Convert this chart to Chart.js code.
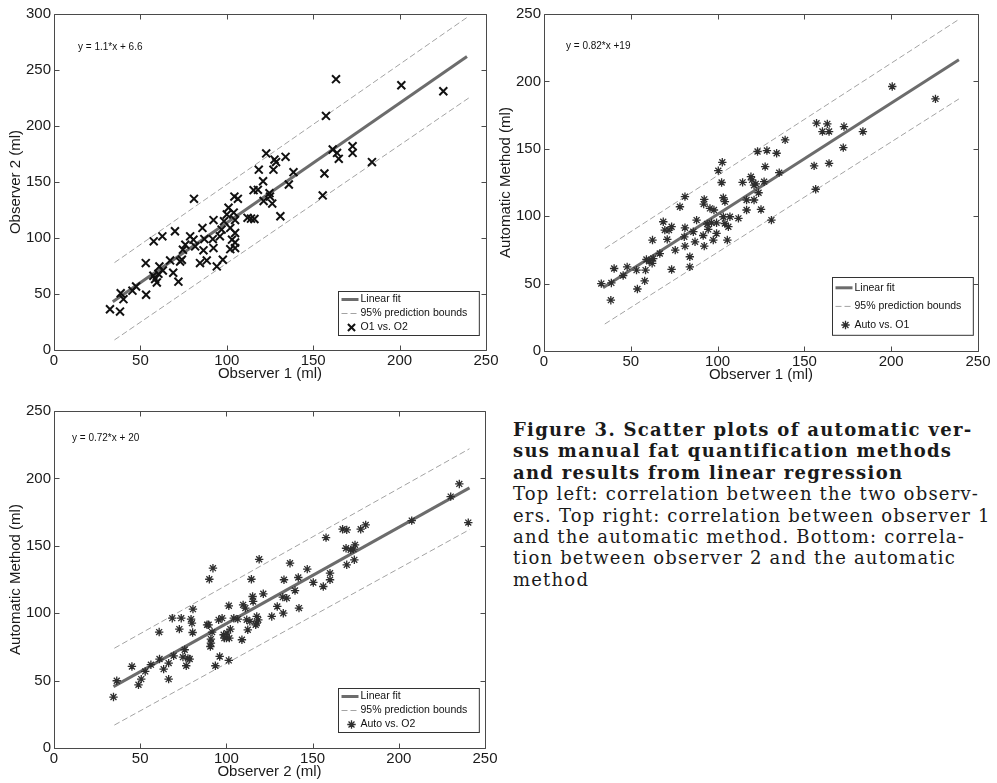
<!DOCTYPE html>
<html>
<head>
<meta charset="utf-8">
<script src="https://cdn.jsdelivr.net/npm/chart.js@4.4.1/dist/chart.umd.min.js"></script>
<style>
  html, body { margin: 0; padding: 0; background: #fff; }
  body { width: 997px; height: 783px; position: relative; overflow: hidden; }
  canvas { position: absolute; }
  #c1 { left: 0; top: 0; }
  #c2 { left: 490px; top: 0; }
  #c3 { left: 0; top: 390px; }
  .caption {
    position: absolute; left: 513px; top: 419px;
    font-family: 'DejaVu Serif', serif; font-size: 18px; line-height: 21.4px; color: #1a1a1a;
    letter-spacing: 1.2px;
  }
  .caption div { white-space: nowrap; }
  .caption .b { font-weight: bold; letter-spacing: 1.3px; }
</style>
</head>
<body>
<canvas id="c1" width="501" height="385"></canvas>
<canvas id="c2" width="503" height="386"></canvas>
<canvas id="c3" width="500" height="393"></canvas>
<div class="caption">
  <div class="b">Figure 3. Scatter plots of automatic ver-</div>
  <div class="b">sus manual fat quantification methods</div>
  <div class="b">and results from linear regression</div>
  <div>Top left: correlation between the two observ-</div>
  <div>ers. Top right: correlation between observer 1</div>
  <div>and the automatic method. Bottom: correla-</div>
  <div>tion between observer 2 and the automatic</div>
  <div>method</div>
</div>
<script>
// top left: observer 1 (x) vs observer 2 (y)
const o1o2X = [32.4, 38.2, 38.6, 40.2, 45.4, 47.5, 53.1, 53.3, 57.7, 62.7, 57.5, 58.5, 59.5, 60.4, 61, 63,
  67.2, 70, 69, 72, 73, 74, 74.6, 76, 78.8, 81, 80.7, 81.7, 84.5, 88.4, 85.9, 86.5, 87, 92.3, 91.9, 92.3,
  94.2, 96, 97.7, 97, 98.4, 100, 101, 102, 103, 104, 104.4, 106.4, 104.8, 104.8, 102, 104.8, 104.8, 112,
  114, 116, 115.5, 118.5, 121, 118, 121.3, 122.8, 124.7, 125, 126.3, 127, 127.6, 128.5, 134, 131, 135.9,
  138.6, 156.5, 155.5, 157.4, 163.2, 161.3, 163.8, 164.8, 172.8, 172.8, 184, 201, 225.3];
const o1o2Y = [36.4, 34.3, 50.7, 45.4, 53, 56.7, 77.6, 49.3, 97, 101.5, 66.3, 63.3, 60.3, 68, 74.6, 71,
  80, 106, 69, 61, 79, 80.6, 89.5, 94, 101.5, 135, 98.5, 92.5, 77.6, 80, 109, 89, 99, 116, 99, 91,
  74.6, 101.5, 80.6, 107.5, 115, 121, 127, 109, 98.5, 122.7, 137, 135, 104.5, 91, 90, 96, 116, 118,
  117.3, 117, 142.7, 161, 150.7, 143, 133, 175.5, 140, 137, 130.7, 161, 170, 167.8, 172.5, 119.4, 147.8,
  158.8, 157.6, 138, 209, 241.8, 179, 176, 170.7, 182, 176, 167.8, 236.4, 231];
const fit1X = [34, 239];
const fit1Y = [43, 262];
const bounds1X = [35, 240];
const upper1Y = [78, 298];
const lower1Y = [9, 225];

// top right: observer 1 (x) vs automatic (y)
const autoO1X = [33, 38.8, 38.5, 40.4, 45.6, 47.9, 53.3, 53.8, 58, 58.5, 59, 60.6, 62.3, 62.9, 62.5, 66.7,
  68.7, 69.6, 71, 72, 73.5, 73.5, 75.6, 78.3, 81.2, 81.2, 80.8, 81.2, 84, 84, 86, 87, 87.9, 92.3, 92, 91.7,
  92.3, 94, 94.6, 96.5, 95.6, 97.9, 97.5, 99.4, 99.4, 100.4, 102.7, 102.3, 103.3, 104.2, 103.3, 104.2,
  105.6, 106.2, 107.1, 112, 114.4, 116.7, 116.7, 119.2, 119.8, 121, 122, 123.6, 121, 125, 126.8, 123,
  128.4, 127.4, 134, 135.5, 131, 138.9, 155.6, 156.5, 157, 160.4, 163.2, 164.2, 164.2, 172.8, 172.4,
  183.7, 200.6, 225.5];
const autoO1Y = [50, 50.5, 37.7, 61.2, 56, 62.4, 60, 46, 52, 60, 67.9, 66.6, 65, 68.6, 82.3, 72.3,
  95.9, 89.7, 82.8, 89.7, 92.2, 60.5, 74.8, 107, 114.5, 91.4, 84.7, 77.8, 69.9, 62.4, 88.5, 81, 97.1, 112.5, 109, 85.7,
  77.8, 94.2, 90.2, 95.1, 105.8, 104.6, 82.3, 95.1, 87.2, 133.8, 140, 125, 113.7, 110.8, 99.6, 94.6,
  82.3, 92.2, 99.6, 98.4, 125.1, 112, 104.6, 129.3, 126.9, 123, 124, 117.4, 112, 105, 125.6, 148,
  148.7, 136.8, 146.7, 132.3, 97.1, 156.6, 137.3, 120, 169, 162.8, 168.5, 162.8, 139.2, 166.5, 150.9,
  162.8, 196.2, 187];
const fit2X = [34, 239];
const fit2Y = [47, 216];
const bounds2X = [35, 239];
const upper2Y = [76, 246];
const lower2Y = [20, 187];

// bottom: observer 2 (x) vs automatic (y)
const autoO2X = [34.5, 36.4, 45.2, 49, 50.6, 52.9, 56.2, 61, 61.2, 63.6, 66.5, 66.5, 68.6, 69.4, 72.7,
  73.8, 74.8, 75.8, 76.7, 77.7, 78.7, 79.5, 80.6, 80, 80.4, 88.8, 89.7, 90.1, 92.2, 91, 90.7, 91, 91.7,
  93.6, 95.5, 96.1, 97.5, 98.4, 98.8, 100, 100.4, 101.4, 101.4, 101.7, 102.3, 104.3, 106.6, 109, 109.7,
  111, 112.4, 113.6, 114.5, 111.8, 115.2, 115.5, 119, 117.6, 117.6, 117, 118.5, 121.4, 126.3, 129.5, 133,
  133.4, 132.7, 135, 136.9, 139.8, 141.7, 142.1, 146.9, 150.4, 156.2, 157.8, 160.1, 160.1, 167.4, 169.8,
  169.4, 169.8, 172.1, 174.6, 173.7, 174.2, 177.9, 180.8, 207.5, 230.1, 235.1, 240.3];
const autoO2Y = [37.8, 49.9, 60.5, 46.9, 51.1, 56.8, 61.8, 86, 66, 58.5, 63, 51.1, 96.3, 68.4, 88.2,
  96.3, 67.4, 72.9, 61, 66.5, 66, 95.6, 103, 92.6, 85.7, 91.4, 91.4, 125.2, 133.4, 80.8, 75.3, 77.8, 86,
  61, 95.1, 67.9, 96.3, 84, 81.5, 81.5, 85.2, 65, 105.5, 81.5, 88.2, 96.3, 95.6, 80.3, 106.2,
  103.8, 87.7, 93.9, 125.2, 95.1, 112.4, 108.7, 140, 97.6, 92.6, 91.4, 95.1, 114.4, 97.6, 105, 100,
  124.8, 111.9, 111.2, 137.1, 116.8, 126.5, 103.8, 132.7, 122.8, 119.8, 156.1, 129.7, 124.8, 162.3, 161.8,
  148.2, 135.9, 147, 150.7, 147.5, 139.6, 162.3, 165.5, 168.7, 186.5, 195.9, 167.2];
const fit3X = [34.5, 241];
const fit3Y = [45.5, 193];
const bounds3X = [35, 241];
const upper3Y = [74, 222];
const lower3Y = [17, 162];

const axisFont = { family: "'Liberation Sans', Arial, sans-serif", size: 15 };
const textColor = '#1a1a1a';

function pairs(xs, ys) {
  return xs.map((x, i) => ({ x, y: ys[i] }));
}

function drawMarker(ctx, style, x, y, r) {
  ctx.beginPath();
  const d = r * Math.SQRT1_2;
  ctx.moveTo(x - d, y - d); ctx.lineTo(x + d, y + d);
  ctx.moveTo(x + d, y - d); ctx.lineTo(x - d, y + d);
  if (style === 'star') {
    ctx.moveTo(x - r, y); ctx.lineTo(x + r, y);
    ctx.moveTo(x, y - r); ctx.lineTo(x, y + r);
  }
  ctx.stroke();
}

// matlab-like box, inward ticks, equation text and legend
const matlabFrame = {
  id: 'matlabFrame',
  afterDatasetsDraw(chart, args, opts) {
    const { ctx, chartArea: a, scales: { x, y } } = chart;
    const L = Math.round(a.left) + 0.5, R = Math.round(a.right) + 0.5;
    const T = Math.round(a.top) + 0.5, B = Math.round(a.bottom) + 0.5;
    ctx.save();
    ctx.strokeStyle = '#4a4a4a';
    ctx.lineWidth = 1;
    ctx.setLineDash([]);
    ctx.beginPath();
    ctx.rect(L, T, R - L, B - T);
    x.ticks.forEach(t => {
      const px = Math.round(x.getPixelForValue(t.value)) + 0.5;
      ctx.moveTo(px, B); ctx.lineTo(px, B - 5);
      ctx.moveTo(px, T); ctx.lineTo(px, T + 5);
    });
    y.ticks.forEach(t => {
      const py = Math.round(y.getPixelForValue(t.value)) + 0.5;
      ctx.moveTo(L, py); ctx.lineTo(L + 5, py);
      ctx.moveTo(R, py); ctx.lineTo(R - 5, py);
    });
    ctx.stroke();

    // equation
    ctx.fillStyle = '#111';
    ctx.font = "10px 'Liberation Sans', Arial, sans-serif";
    ctx.textBaseline = 'middle';
    ctx.fillText(opts.equation, a.left + opts.eqDx, a.top + opts.eqDy);

    // legend
    const ds = chart.data.datasets;
    const order = [1, 2, 0];
    ctx.font = "10.5px 'Liberation Sans', Arial, sans-serif";
    const tw = Math.max(...order.map(i => ctx.measureText(ds[i].label).width));
    const bw = tw + 34;
    const bh = opts.rowH * 3 + 2;
    const bx = Math.round(a.right - opts.legRight - bw) + 0.5;
    const by = Math.round(a.bottom - opts.legBottom - bh) + 0.5;
    ctx.fillStyle = '#fff';
    ctx.fillRect(bx, by, bw, bh);
    ctx.strokeStyle = '#333';
    ctx.strokeRect(bx, by, bw, bh);
    order.forEach((i, k) => {
      const cy = by + 1 + opts.rowH * (k + 0.5);
      const d = ds[i];
      ctx.save();
      if (i === 0) {
        ctx.strokeStyle = d.borderColor;
        ctx.lineWidth = d.borderWidth;
        drawMarker(ctx, d.pointStyle, bx + 13, cy, d.pointRadius * (d.pointStyle === 'star' ? 1 : 0.9));
      } else {
        ctx.strokeStyle = d.borderColor;
        ctx.lineWidth = d.borderWidth;
        ctx.setLineDash(d.borderDash || []);
        ctx.beginPath();
        ctx.moveTo(bx + 3, cy); ctx.lineTo(bx + 20, cy);
        ctx.stroke();
      }
      ctx.restore();
      ctx.fillStyle = '#111';
      ctx.fillText(d.label, bx + 22, cy);
    });
    ctx.restore();
  }
};

function axis(min, max, title, horizontal, size) {
  return {
    type: 'linear',
    min, max,
    ticks: { stepSize: 50, color: textColor, font: axisFont, padding: horizontal ? 2 : 3 },
    grid: { display: false, drawTicks: false },
    border: { display: false },
    title: {
      display: true, text: title, color: textColor, font: axisFont,
      padding: horizontal ? { top: 0, bottom: 2 } : { top: 7, bottom: 0 }
    },
    afterFit: s => { if (horizontal) s.height = size; else s.width = size; }
  };
}

function makeChart(id, cfg) {
  return new Chart(document.getElementById(id), {
    type: 'scatter',
    data: {
      datasets: [
        {
          label: cfg.pointLabel,
          data: pairs(cfg.px, cfg.py),
          pointStyle: cfg.marker,
          pointRadius: cfg.marker === 'star' ? 4.2 : 5.6,
          borderColor: cfg.marker === 'star' ? '#2e2e2e' : '#111',
          backgroundColor: 'transparent',
          borderWidth: cfg.marker === 'star' ? 1.3 : 2,
          showLine: false,
          order: 0
        },
        {
          label: 'Linear fit',
          data: pairs(cfg.fitX, cfg.fitY),
          showLine: true, pointRadius: 0,
          borderColor: '#6c6c6c', borderWidth: 3,
          order: 2
        },
        {
          label: '95% prediction bounds',
          data: pairs(cfg.bx, cfg.upper),
          showLine: true, pointRadius: 0,
          borderColor: '#a3a3a3', borderWidth: 1, borderDash: [6, 3],
          order: 3
        },
        {
          label: '95% prediction bounds (lower)',
          data: pairs(cfg.bx, cfg.lower),
          showLine: true, pointRadius: 0,
          borderColor: '#a3a3a3', borderWidth: 1, borderDash: [6, 3],
          order: 3
        }
      ]
    },
    options: {
      responsive: false,
      animation: false,
      events: [],
      layout: { padding: { left: 0, right: 15, top: cfg.padTop, bottom: 0 } },
      plugins: {
        legend: { display: false },
        tooltip: { enabled: false },
        matlabFrame: {
          equation: cfg.equation, eqDx: cfg.eqDx, eqDy: cfg.eqDy,
          rowH: cfg.rowH, legRight: cfg.legRight, legBottom: cfg.legBottom
        }
      },
      scales: {
        x: axis(0, 250, cfg.xTitle, true, 35),
        y: axis(0, cfg.yMax, cfg.yTitle, false, 54)
      }
    },
    plugins: [matlabFrame]
  });
}

makeChart('c1', {
  px: o1o2X, py: o1o2Y, fitX: fit1X, fitY: fit1Y, bx: bounds1X, upper: upper1Y, lower: lower1Y,
  marker: 'crossRot', pointLabel: 'O1 vs. O2', equation: 'y = 1.1*x + 6.6',
  xTitle: 'Observer 1 (ml)', yTitle: 'Observer 2 (ml)', yMax: 300, padTop: 14,
  eqDx: 24, eqDy: 33, rowH: 14, legRight: 7, legBottom: 15
});

makeChart('c2', {
  px: autoO1X, py: autoO1Y, fitX: fit2X, fitY: fit2Y, bx: bounds2X, upper: upper2Y, lower: lower2Y,
  marker: 'star', pointLabel: 'Auto vs. O1', equation: 'y = 0.82*x +19',
  xTitle: 'Observer 1 (ml)', yTitle: 'Automatic Method (ml)', yMax: 250, padTop: 14,
  eqDx: 22, eqDy: 32, rowH: 18.6, legRight: 5, legBottom: 16
});

makeChart('c3', {
  px: autoO2X, py: autoO2Y, fitX: fit3X, fitY: fit3Y, bx: bounds3X, upper: upper3Y, lower: lower3Y,
  marker: 'star', pointLabel: 'Auto vs. O2', equation: 'y = 0.72*x + 20',
  xTitle: 'Observer 2 (ml)', yTitle: 'Automatic Method (ml)', yMax: 250, padTop: 21,
  eqDx: 18, eqDy: 27, rowH: 14, legRight: 6, legBottom: 16
});
</script>
</body>
</html>
